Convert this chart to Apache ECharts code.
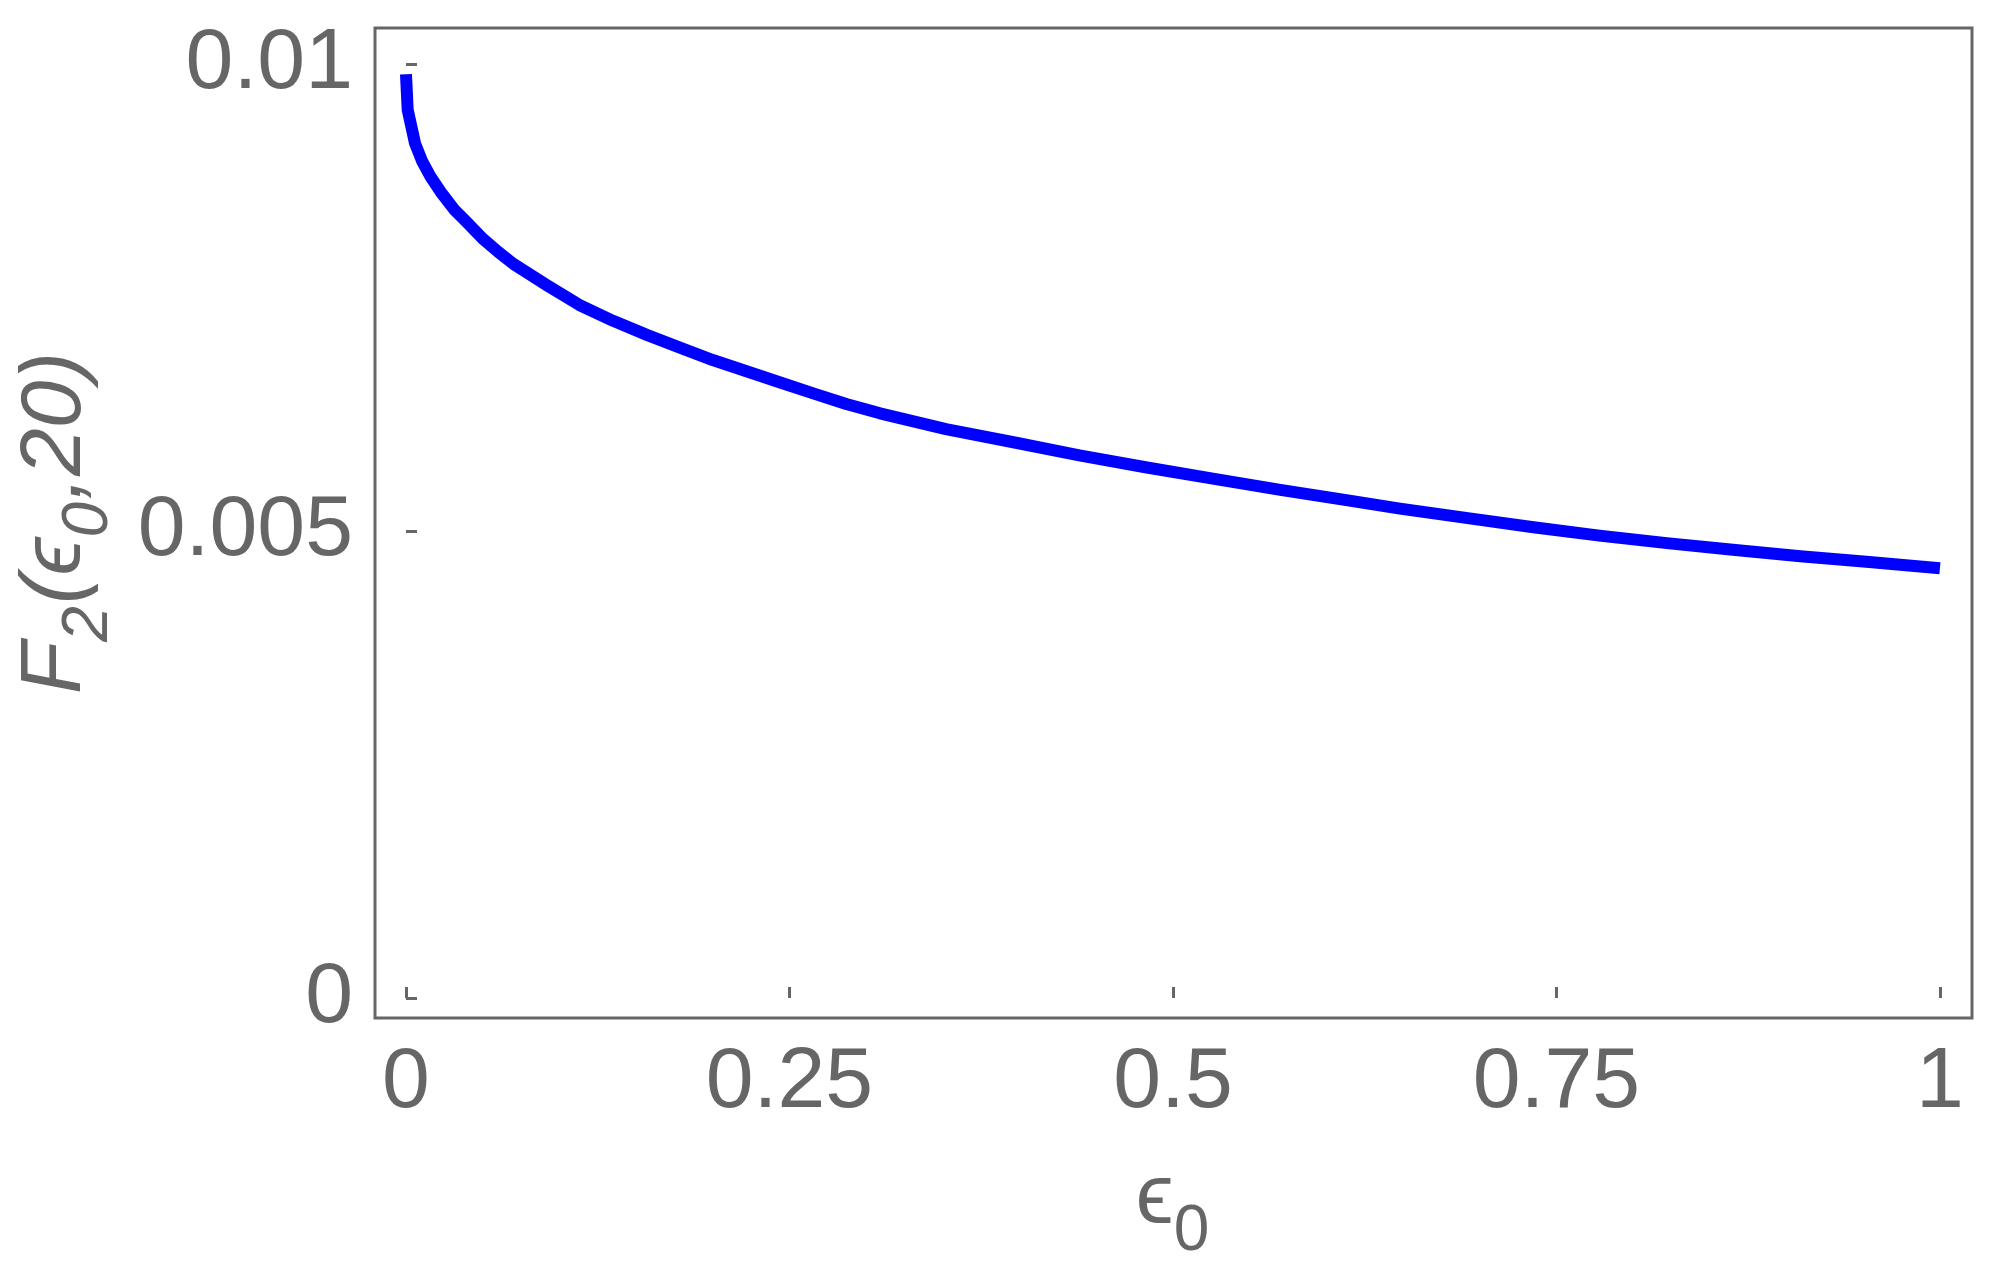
<!DOCTYPE html>
<html>
<head>
<meta charset="utf-8">
<title>F2(eps0, 20)</title>
<script src="https://cdn.jsdelivr.net/npm/echarts@6.0.0/dist/echarts.min.js"></script>
<style>
    html, body {
        margin: 0;
        padding: 0;
        background: #ffffff;
    }

    #f2-diagram {
        width: 1998px;
        height: 1273px;
    }
</style>
</head>
<body>
<div id="f2-diagram"></div>
<script>
// values
const eps_list = [0, 0.0011, 0.0059, 0.0105, 0.0161, 0.0235, 0.0315, 0.040, 0.050, 0.060,
    0.070, 0.092, 0.113, 0.135, 0.157, 0.179, 0.200, 0.222, 0.244, 0.266,
    0.287, 0.309, 0.352, 0.396, 0.439, 0.483, 0.526, 0.570, 0.613, 0.648,
    0.691, 0.735, 0.778, 0.822, 0.865, 0.909, 0.952, 0.987, 1.0];
const f2_list = [0.00989, 0.00951, 0.00915, 0.00896, 0.00879, 0.00861, 0.00844, 0.00830, 0.00813, 0.00799,
    0.00786, 0.00763, 0.00742, 0.00725, 0.00710, 0.00696, 0.00683, 0.00671, 0.00659, 0.00647,
    0.00636, 0.00626, 0.00609, 0.00595, 0.00581, 0.00568, 0.00556, 0.00544, 0.00533, 0.00524,
    0.00514, 0.00504, 0.00495, 0.00487, 0.00480, 0.00473, 0.00467, 0.00462, 0.00460];

const x_ticks = [0, 0.25, 0.5, 0.75, 1];
const y_ticks = [0, 0.005, 0.01];

const textColor = '#666666';
const mainFont = '"Liberation Sans", Arial, "DejaVu Sans", sans-serif';
const fontSize = 86;
const subSize = 64;

const richText = (italic) => ({
    m: {
        fontSize: fontSize,
        lineHeight: 100,
        verticalAlign: 'top',
        fontStyle: italic ? 'italic' : 'normal',
        fontFamily: mainFont,
        color: textColor
    },
    s: {
        fontSize: subSize,
        lineHeight: 62,
        padding: [44, 2, 0, 0],
        verticalAlign: 'top',
        fontStyle: italic ? 'italic' : 'normal',
        fontFamily: mainFont,
        color: textColor
    }
});

let f2_chart = null;
let f2Option = {
    animation: false,
    backgroundColor: '#ffffff',
    grid: {
        left: 375,
        right: 26,
        top: 28,
        bottom: 255,
        show: true,
        borderColor: textColor,
        borderWidth: 3,
        backgroundColor: 'transparent'
    },
    xAxis: {
        type: 'value',
        min: -0.0202,
        max: 1.0209,
        name: '{m|ϵ}{s|0}',
        nameLocation: 'middle',
        nameGap: 138,
        nameTextStyle: {
            rich: richText(false)
        },
        axisLine: { show: false },
        splitLine: { show: false },
        axisTick: {
            show: true,
            inside: true,
            length: 11,
            customValues: x_ticks,
            lineStyle: { color: textColor, width: 3 }
        },
        axisLabel: {
            customValues: x_ticks,
            margin: 22,
            color: textColor,
            fontSize: fontSize,
            fontFamily: mainFont,
            formatter: v => String(v)
        }
    },
    yAxis: {
        type: 'value',
        min: -0.000214,
        max: 0.010385,
        name: '{m|F}{s|2}{m|(ϵ}{s|0}{m|,20)}',
        nameLocation: 'middle',
        nameGap: 262,
        nameTextStyle: {
            rich: richText(true)
        },
        axisLine: { show: false },
        splitLine: { show: false },
        axisTick: {
            show: true,
            inside: true,
            length: 11,
            customValues: y_ticks,
            lineStyle: { color: textColor, width: 3 }
        },
        axisLabel: {
            customValues: y_ticks,
            margin: 22,
            color: textColor,
            fontSize: fontSize,
            fontFamily: mainFont,
            formatter: v => String(v)
        }
    },
    series: [
        {
            type: 'line',
            data: eps_list.map((e, i) => [e, f2_list[i]]),
            showSymbol: false,
            smooth: false,
            lineStyle: {
                color: '#0000ff',
                width: 12,
                cap: 'butt',
                join: 'round'
            }
        }
    ]
};

const create_f2_data = () => {
    let chartDom = document.getElementById('f2-diagram');
    f2_chart = echarts.init(chartDom, null, { renderer: 'canvas' });
    f2_chart.setOption(f2Option);
    window.addEventListener('resize', f2_chart.resize);
}

create_f2_data();
</script>
</body>
</html>
